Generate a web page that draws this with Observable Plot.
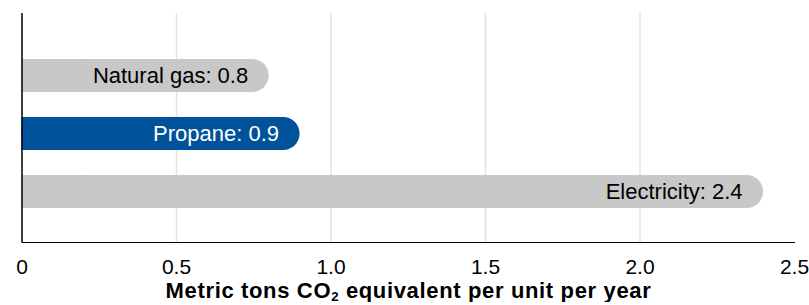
<!DOCTYPE html>
<html>
<head>
<meta charset="utf-8">
<script src="https://cdn.jsdelivr.net/npm/d3@7"></script>
<script src="https://cdn.jsdelivr.net/npm/@observablehq/plot@0.6"></script>
<style>
  html, body { margin: 0; padding: 0; background: #fff; }
  #chart { width: 809px; height: 280px; }
  #chart svg { display: block; }
  #title { font-family: "Liberation Sans", Arial, sans-serif; font-weight: bold; font-size: 22px; line-height: 22px; letter-spacing: 0.65px; text-align: center; padding-left: 8px; width: 801px; margin-top: 0; color: #000; white-space: nowrap; }
  #title sub { font-size: 0.6em; vertical-align: -0.2em; line-height: 0; }
</style>
</head>
<body>
<div id="chart"></div>
<div id="title">Metric tons CO<sub>2</sub> equivalent per unit per year</div>
<script>
const categories = ["Natural gas", "Propane", "Electricity"];
const values = [0.8, 0.9, 2.4];
const highlight = "Propane";
const tickValues = [0, 0.5, 1.0, 1.5, 2.0, 2.5];
const gridValues = [0.5, 1.0, 1.5, 2.0];

const data = categories.map((name, i) => ({name, value: values[i]}));
const GRAY = "#c8c8c8", BLUE = "#00539b";
const fillOf = d => d.name === highlight ? BLUE : GRAY;

const chart = Plot.plot({
  width: 809,
  height: 280,
  marginLeft: 21.5,
  marginRight: 15,
  marginTop: 13,
  marginBottom: 38,
  style: {fontFamily: "'Liberation Sans', Arial, sans-serif", fontSize: "21px", color: "#000", background: "#fff"},
  x: {domain: [0, 2.5], ticks: tickValues, tickFormat: d => d === 0 ? "0" : d.toFixed(1), tickSize: 0, tickPadding: 17, line: true, label: null},
  y: {domain: categories, range: [57.3, 208.6], paddingInner: 0.435, paddingOuter: 0, axis: null},
  color: {type: "identity"},
  marks: [
    Plot.ruleX(gridValues, {stroke: "#e2e2e2", strokeWidth: 1.5}),
    Plot.barX(data, {x1: 0, x2: "value", y: "name", fill: fillOf, rx: 16.5}),
    Plot.barX(data, {x1: 0, x2: d => Math.min(d.value, 0.2), y: "name", fill: fillOf}),
    Plot.text(data, {x: "value", y: "name", text: d => `${d.name}: ${d.value}`, textAnchor: "end", dx: -21, fontSize: 22, fill: d => d.name === highlight ? "#fff" : "#000"}),
    Plot.ruleX([0], {stroke: "#000", strokeWidth: 1.5})
  ]
});
document.getElementById("chart").appendChild(chart);
</script>
</body>
</html>
